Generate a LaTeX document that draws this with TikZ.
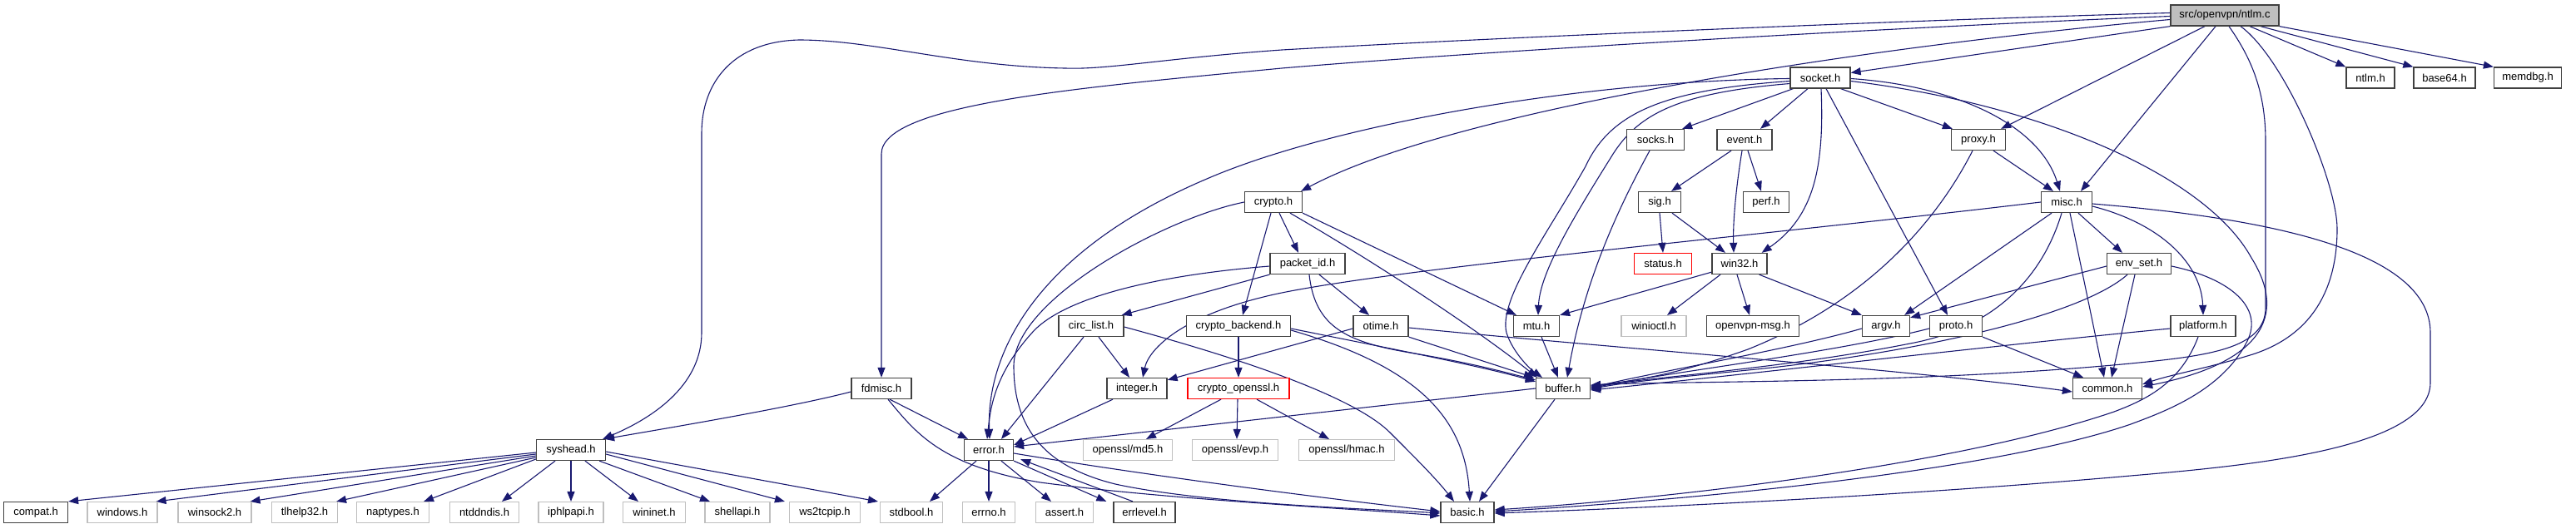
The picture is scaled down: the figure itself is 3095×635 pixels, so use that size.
\documentclass[tikz,border=0pt]{standalone}
\usepackage{fontspec}
\setmainfont{Liberation Sans}
\usetikzlibrary{arrows.meta}
\definecolor{edgec}{HTML}{191970}
\definecolor{gborder}{HTML}{BFBFBF}
\definecolor{rootfill}{HTML}{BFBFBF}
\pgfdeclarelayer{bg}
\pgfsetlayers{bg,main}
\begin{document}
\begin{tikzpicture}[x=1pt,y=-1pt,
  box/.style={draw=black!75, line width=1.3pt, fill=white, inner sep=0pt, minimum height=25pt, font=\fontsize{13}{15}\selectfont},
  gbox/.style={box, draw=gborder, line width=1.1pt},
  rbox/.style={box, draw=red},
  rootbox/.style={box, fill=rootfill},
  e/.style={draw=edgec, line width=1.1pt, -{Triangle[length=12pt,width=9pt]}}]
\useasboundingbox (0,0) rectangle (3095,635);
% row 0
\node[rootbox, minimum width=130pt] (root) at (2673,18.5) {src/openvpn/ntlm.c};
% row 1
\node[box, minimum width=58pt] (ntlmh) at (2848,93.5) {ntlm.h};
\node[box, minimum width=74pt] (base64) at (2937,93.5) {base64.h};
\node[box, minimum width=81pt] (memdbg) at (3037,93.5) {memdbg.h};
\node[box, minimum width=72pt] (socket) at (2187,93.5) {socket.h};
% row 2
\node[box, minimum width=66pt] (event) at (2096,168) {event.h};
\node[box, minimum width=65pt] (proxy) at (2377,168) {proxy.h};
\node[box, minimum width=69pt] (socks) at (1989,168) {socks.h};
% row 3
\node[box, minimum width=55pt] (perf) at (2122,243) {perf.h};
\node[box, minimum width=61pt] (misc) at (2483,243) {misc.h};
\node[box, minimum width=51pt] (sig) at (1994,243) {sig.h};
\node[box, minimum width=69pt] (crypto) at (1530,243) {crypto.h};
% row 4
\node[box, minimum width=66pt] (win32) at (2090,317) {win32.h};
\node[box, minimum width=77pt] (envset) at (2570,317) {env\_set.h};
\node[rbox, minimum width=69pt] (status) at (1998,317) {status.h};
\node[box, minimum width=90pt] (packetid) at (1571,317) {packet\_id.h};
% row 5
\node[box, minimum width=78pt] (circ) at (1311,392) {circ\_list.h};
\node[box, minimum width=125pt] (cbackend) at (1488,392) {crypto\_backend.h};
\node[box, minimum width=66pt] (otime) at (1659,392) {otime.h};
\node[box, minimum width=55pt] (mtu) at (1846,392) {mtu.h};
\node[gbox, minimum width=78pt] (winioctl) at (1987,392) {winioctl.h};
\node[box, minimum width=111pt] (openvpnmsg) at (2106,392) {openvpn-msg.h};
\node[box, minimum width=57pt] (argv) at (2266,392) {argv.h};
\node[box, minimum width=63pt] (proto) at (2350,392) {proto.h};
\node[box, minimum width=78pt] (platform) at (2647,392) {platform.h};
% row 6
\node[box, minimum width=72pt] (fdmisc) at (1059,467) {fdmisc.h};
\node[box, minimum width=72pt] (integer) at (1366,467) {integer.h};
\node[rbox, minimum width=122pt] (copenssl) at (1488,467) {crypto\_openssl.h};
\node[box, minimum width=65pt] (buffer) at (1878,467) {buffer.h};
\node[box, minimum width=83pt] (common) at (2532,467) {common.h};
% row 7
\node[box, minimum width=83pt] (syshead) at (686,541) {syshead.h};
\node[box, minimum width=59pt] (error) at (1188,541) {error.h};
\node[gbox, minimum width=107pt] (md5) at (1355,541) {openssl/md5.h};
\node[gbox, minimum width=103pt] (evp) at (1484,541) {openssl/evp.h};
\node[gbox, minimum width=115pt] (hmac) at (1618,541) {openssl/hmac.h};
% row 8
\node[box, minimum width=77pt] (compat) at (43,616) {compat.h};
\node[gbox, minimum width=84pt] (windows) at (147,616) {windows.h};
\node[gbox, minimum width=88pt] (winsock2) at (258,616) {winsock2.h};
\node[gbox, minimum width=79pt] (tlhelp32) at (366,616) {tlhelp32.h};
\node[gbox, minimum width=87pt] (naptypes) at (472,616) {naptypes.h};
\node[gbox, minimum width=83pt] (ntddndis) at (582,616) {ntddndis.h};
\node[gbox, minimum width=78pt] (iphlpapi) at (686,616) {iphlpapi.h};
\node[gbox, minimum width=75pt] (wininet) at (786,616) {wininet.h};
\node[gbox, minimum width=78pt] (shellapi) at (886,616) {shellapi.h};
\node[gbox, minimum width=85pt] (ws2tcpip) at (991,616) {ws2tcpip.h};
\node[gbox, minimum width=75pt] (stdbool) at (1095,616) {stdbool.h};
\node[gbox, minimum width=63pt] (errno) at (1188,616) {errno.h};
\node[gbox, minimum width=69pt] (assert) at (1279,616) {assert.h};
\node[box, minimum width=74pt] (errlevel) at (1375,616) {errlevel.h};
\node[box, minimum width=64pt] (basic) at (1763,616) {basic.h};

\begin{pgfonlayer}{bg}
% root edges
\draw[e] ([yshift=3pt]root.west) .. controls (2300,24) and (1800,45) .. (1540,60) .. controls (1400,70) and (1330,84) .. (1280,82) .. controls (1150,80) and (1050,48) .. (960,48) .. controls (880,50) and (843,100) .. (843,160) -- (843,400) .. controls (843,460) and (790,500) .. ([xshift=-4pt]syshead.north east);
\draw[e] ([yshift=-1pt]root.west) .. controls (2300,32) and (1800,60) .. (1540,82) .. controls (1300,105) and (1059,125) .. (1059,185) -- (fdmisc.north);
\draw[e] ([yshift=-5pt]root.west) .. controls (2250,55) and (1750,130) .. ([xshift=-2pt]crypto.north east);
\draw[e] (root.south west) -- ([yshift=6pt]socket.east);
\draw[e] ([xshift=-24pt]root.south) -- ([xshift=-6pt]proxy.north east);
\draw[e] ([xshift=-11pt]root.south) -- ([xshift=17pt]misc.north);
\draw[e] ([xshift=5pt]root.south) .. controls (2705,70) and (2722,110) .. (2722,170) -- (2722,370) .. controls (2722,420) and (2650,428) .. (2560,437) .. controls (2300,462) and (2000,458) .. ([yshift=4pt]buffer.east);
\draw[e] ([xshift=19pt]root.south) .. controls (2745,70) and (2808,220) .. (2808,275) .. controls (2808,345) and (2780,405) .. (2700,428) .. controls (2650,443) and (2610,450) .. ([yshift=5pt]common.east);
\draw[e] ([xshift=30pt]root.south) -- (ntlmh.north west);
\draw[e] ([xshift=43pt]root.south) -- (base64.north west);
\draw[e] (root.south east) -- (memdbg.north west);
% socket edges
\draw[e] ([xshift=4pt]socket.south west) -- ([xshift=-3pt]socks.north east);
\draw[e] ([xshift=-15pt]socket.south) -- ([xshift=19pt]event.north);
\draw[e] ([xshift=1pt]socket.south) .. controls (2192,200) and (2180,260) .. ([xshift=-7pt]win32.north east);
\draw[e] ([xshift=7pt]socket.south) -- ([xshift=-10pt]proto.north);
\draw[e] ([xshift=-12pt]socket.south east) -- ([xshift=2pt]proxy.north west);
\draw[e] ([yshift=-1pt]socket.east) .. controls (2350,103) and (2450,150) .. ([xshift=-8pt]misc.north);
\draw[e] ([yshift=-4pt]socket.east) .. controls (2450,125) and (2650,210) .. (2705,310) .. controls (2755,390) and (2700,440) .. ([yshift=2pt]common.east);
\draw[e] ([yshift=-1pt]socket.west) .. controls (1900,97) and (1600,150) .. (1450,215) .. controls (1250,300) and (1185,420) .. ([xshift=1pt]error.north);
\draw[e] ([yshift=-4pt]socket.west) .. controls (2000,108) and (1935,135) .. (1905,200) .. controls (1860,280) and (1800,360) .. (1810,400) .. controls (1818,425) and (1840,445) .. ([xshift=-25pt]buffer.north);
\draw[e] ([yshift=-7pt]socket.west) .. controls (2010,112) and (1965,140) .. (1935,190) .. controls (1885,270) and (1850,330) .. ([xshift=2pt]mtu.north);
% event, proxy, socks, sig
\draw[e] ([xshift=-16pt]event.south) -- ([xshift=14pt]sig.north);
\draw[e] ([xshift=-3pt]event.south) .. controls (2085,230) and (2082,270) .. ([xshift=-7pt]win32.north);
\draw[e] ([xshift=4pt]event.south) -- ([xshift=-6pt]perf.north);
\draw[e] ([xshift=18pt]proxy.south) -- ([xshift=-16pt]misc.north);
\draw[e] ([xshift=-7pt]proxy.south) .. controls (2330,260) and (2250,360) .. (2100,420) .. controls (2010,452) and (1960,458) .. ([yshift=3pt]buffer.east);
\draw[e] ([xshift=-7pt]socks.south) .. controls (1950,240) and (1905,330) .. ([xshift=5pt]buffer.north);
\draw[e] (sig.south) -- (status.north);
\draw[e] ([xshift=15pt]sig.south) -- ([xshift=-17pt]win32.north);
% misc edges
\draw[e] (misc.west) .. controls (2100,285) and (1700,320) .. (1540,352) .. controls (1420,377) and (1380,420) .. ([xshift=7pt]integer.north);
\draw[e] ([xshift=-18pt]misc.south) -- ([xshift=-7pt]argv.north east);
\draw[e] ([xshift=-6pt]misc.south) .. controls (2455,330) and (2400,392) .. (2300,412) .. controls (2150,442) and (2000,452) .. ([yshift=2pt]buffer.east);
\draw[e] ([xshift=4pt]misc.south) -- ([xshift=-4pt]common.north);
\draw[e] ([xshift=14pt]misc.south) -- ([xshift=-20pt]envset.north);
\draw[e] ([yshift=-5pt]misc.east) .. controls (2600,270) and (2645,320) .. (platform.north);
\draw[e] ([yshift=-2pt]misc.east) .. controls (2720,262) and (2920,300) .. (2920,400) -- (2920,460) .. controls (2920,540) and (2700,560) .. (2560,572) .. controls (2300,595) and (2000,610) .. ([yshift=-1pt]basic.east);
% win32 edges
\draw[e] ([yshift=3pt]win32.south west) -- (mtu.north east);
\draw[e] ([xshift=-23pt]win32.south) -- ([xshift=16pt]winioctl.north);
\draw[e] ([xshift=-3pt]win32.south) -- ([xshift=-4pt]openvpnmsg.north);
\draw[e] ([xshift=-10pt]win32.south east) -- (argv.north west);
% argv, proto, envset, platform
\draw[e] ([yshift=-3pt]argv.west) .. controls (2150,420) and (2000,445) .. ([yshift=1pt]buffer.east);
\draw[e] ([yshift=-3pt]proto.west) .. controls (2200,425) and (2000,448) .. ([yshift=0pt]buffer.east);
\draw[e] (proto.south east) -- ([xshift=-29pt]common.north);
\draw[e] ([yshift=-3pt]envset.west) -- ([yshift=-3pt]argv.north east);
\draw[e] ([xshift=-14pt]envset.south) .. controls (2500,380) and (2300,425) .. (2100,445) .. controls (2000,455) and (1950,460) .. ([yshift=-1pt]buffer.east);
\draw[e] ([xshift=-5pt]envset.south) -- ([xshift=5pt]common.north);
\draw[e] ([yshift=-3pt]envset.east) .. controls (2680,335) and (2720,370) .. (2700,410) .. controls (2670,470) and (2600,495) .. (2560,510) .. controls (2400,565) and (2050,600) .. ([yshift=1pt]basic.east);
\draw[e] ([yshift=-3pt]platform.west) .. controls (2400,415) and (2100,450) .. ([yshift=-2pt]buffer.east);
\draw[e] ([xshift=-6pt]platform.south) .. controls (2620,460) and (2580,480) .. (2540,495) .. controls (2350,560) and (2000,600) .. ([yshift=3pt]basic.east);
% crypto edges
\draw[e] ([xshift=-3pt]crypto.south) -- ([xshift=5pt]cbackend.north);
\draw[e] ([xshift=7pt]crypto.south) -- ([xshift=-11pt]packetid.north);
\draw[e] ([xshift=20pt]crypto.south) .. controls (1660,320) and (1780,400) .. ([xshift=2pt]buffer.north west);
\draw[e] (crypto.south east) -- ([xshift=4pt]mtu.north west);
\draw[e] (crypto.west) .. controls (1400,262) and (1218,360) .. (1218,440) .. controls (1218,520) and (1260,562) .. (1340,582) .. controls (1450,606) and (1650,612) .. ([yshift=-1pt]basic.west);
% packet_id edges
\draw[e] (packetid.south west) -- ([xshift=-3pt]circ.north east);
\draw[e] ([xshift=14pt]packetid.south) -- ([xshift=-14pt]otime.north);
\draw[e] ([xshift=2pt]packetid.south) .. controls (1580,395) and (1620,412) .. (1700,425) .. controls (1770,437) and (1810,448) .. ([yshift=-3pt]buffer.north west);
\draw[e] ([yshift=-3pt]packetid.west) .. controls (1400,330) and (1280,355) .. (1240,400) .. controls (1195,450) and (1190,490) .. ([xshift=-2pt]error.north);
% circ, cbackend, copenssl, otime, mtu, integer
\draw[e] ([xshift=-9pt]circ.south) -- ([xshift=15pt]error.north);
\draw[e] ([xshift=9pt]circ.south) -- ([xshift=-9pt]integer.north);
\draw[e] ([yshift=-1pt]circ.east) .. controls (1450,420) and (1620,470) .. (1670,520) .. controls (1700,550) and (1725,575) .. ([xshift=-16pt]basic.north);
\draw[e] (cbackend.south) -- (copenssl.north);
\draw[e] ([yshift=-5pt]cbackend.east) .. controls (1700,440) and (1760,500) .. ([xshift=3pt]basic.north);
\draw[e] ([yshift=-3pt]cbackend.east) .. controls (1650,415) and (1780,440) .. ([yshift=-5pt]buffer.north west);
\draw[e] ([xshift=-21pt]copenssl.south) -- ([xshift=22pt]md5.north);
\draw[e] ([xshift=-1pt]copenssl.south) -- ([xshift=2pt]evp.north);
\draw[e] ([xshift=22pt]copenssl.south) -- ([xshift=-21pt]hmac.north);
\draw[e] (otime.south east) -- ([xshift=-2pt]buffer.north west);
\draw[e] ([yshift=-3pt]otime.west) -- ([yshift=-3pt]integer.north east);
\draw[e] ([yshift=-2pt]otime.east) .. controls (1900,415) and (2300,445) .. ([yshift=-4pt]common.west);
\draw[e] ([xshift=6pt]mtu.south) -- ([xshift=-6pt]buffer.north);
\draw[e] ([xshift=-29pt]integer.south) -- ([yshift=6pt]error.east);
% buffer
\draw[e] (buffer.west) -- ([yshift=4pt]error.east);
\draw[e] ([xshift=-10pt]buffer.south) -- ([xshift=14pt]basic.north);
% fdmisc
\draw[e] ([yshift=-4pt]fdmisc.west) .. controls (950,490) and (800,515) .. ([xshift=-2pt]syshead.north east);
\draw[e] ([xshift=10pt]fdmisc.south) -- ([xshift=-25pt]error.north);
\draw[e] ([xshift=8pt]fdmisc.south) .. controls (1100,520) and (1130,560) .. (1250,580) .. controls (1400,600) and (1600,610) .. ([yshift=-4pt]basic.west);
% error
\draw[e] ([xshift=-15pt]error.south) -- ([xshift=22pt]stdbool.north);
\draw[e] (error.south) -- (errno.north);
\draw[e] ([xshift=15pt]error.south) -- ([xshift=-16pt]assert.north);
\draw[e] (error.south east) -- ([xshift=-8pt]errlevel.north west);
\draw[e] ([xshift=-14pt]errlevel.north) -- ([xshift=8pt,yshift=2pt]error.south east);
\draw[e] ([yshift=-4pt]error.east) .. controls (1400,575) and (1600,600) .. ([yshift=1pt]basic.west);
% syshead
\draw[e] ([yshift=-3pt]syshead.west) -- (compat.north east);
\draw[e] ([yshift=-5pt]syshead.west) -- ([xshift=-2pt]windows.north east);
\draw[e] ([yshift=-7pt]syshead.west) -- ([xshift=-2pt]winsock2.north east);
\draw[e] ([yshift=-9pt]syshead.west) -- ([xshift=-2pt]tlhelp32.north east);
\draw[e] ([yshift=-11pt]syshead.west) -- ([xshift=-7pt]naptypes.north east);
\draw[e] ([xshift=-19pt]syshead.south) -- ([xshift=21pt]ntddndis.north);
\draw[e] (syshead.south) -- (iphlpapi.north);
\draw[e] ([xshift=17pt]syshead.south) -- ([xshift=-19pt]wininet.north);
\draw[e] ([xshift=-8pt]syshead.south east) -- ([xshift=-33pt]shellapi.north);
\draw[e] ([yshift=-5pt]syshead.east) -- ([xshift=-5pt]ws2tcpip.north west);
\draw[e] ([yshift=-2pt]syshead.east) -- ([xshift=-2pt]stdbool.north west);
\end{pgfonlayer}
\end{tikzpicture}
\end{document}
